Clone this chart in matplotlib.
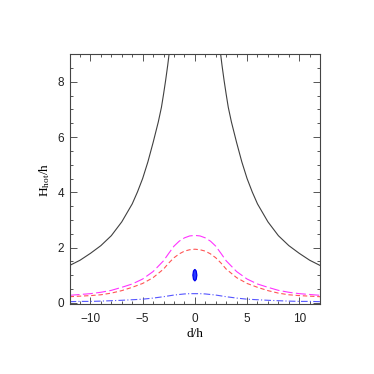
import matplotlib
matplotlib.use("Agg")
import matplotlib.pyplot as plt
from matplotlib.ticker import MultipleLocator

plt.rcParams['mathtext.fontset'] = 'stix'

# Data
black_x = [-12, -11, -10, -9, -8, -7, -6, -5.5, -5, -4.5, -4, -3.5, -3.2, -3, -2.8, -2.6, -2.47, -2.3,
           None,
           2.3, 2.47, 2.6, 2.8, 3, 3.2, 3.5, 4, 4.5, 5, 5.5, 6, 7, 8, 9, 10, 11, 12]
black_y = [1.35, 1.54, 1.79, 2.07, 2.43, 2.93, 3.58, 4.01, 4.50, 5.10, 5.80, 6.55, 7.08, 7.55, 8.05, 8.6, 9.0, 9.5,
           None,
           9.5, 9.0, 8.6, 8.05, 7.55, 7.08, 6.55, 5.80, 5.10, 4.50, 4.01, 3.58, 2.93, 2.43, 2.07, 1.79, 1.54, 1.35]

peak_x = [-12, -11, -10, -9, -8, -7, -6, -5, -4, -3, -2.5, -2, -1.5, -1, -0.5, 0,
          0.5, 1, 1.5, 2, 2.5, 3, 4, 5, 6, 7, 8, 9, 10, 11, 12]
magenta_y = [0.27, 0.30, 0.33, 0.38, 0.45, 0.56, 0.68, 0.86, 1.13, 1.52, 1.79, 2.05, 2.23, 2.35, 2.42, 2.44,
             2.42, 2.35, 2.23, 2.05, 1.79, 1.52, 1.13, 0.86, 0.68, 0.56, 0.45, 0.38, 0.33, 0.30, 0.27]
red_y = [0.22, 0.24, 0.26, 0.29, 0.35, 0.44, 0.56, 0.70, 0.91, 1.22, 1.44, 1.63, 1.77, 1.87, 1.92, 1.94,
         1.92, 1.87, 1.77, 1.63, 1.44, 1.22, 0.91, 0.70, 0.56, 0.44, 0.35, 0.29, 0.26, 0.24, 0.22]
blue_y = [0.04, 0.05, 0.05, 0.06, 0.075, 0.09, 0.11, 0.13, 0.17, 0.22, 0.25, 0.28, 0.30, 0.32, 0.33, 0.33,
          0.33, 0.32, 0.30, 0.28, 0.25, 0.22, 0.17, 0.13, 0.11, 0.09, 0.075, 0.06, 0.05, 0.05, 0.04]

blob_x = [0, 0.13, 0.19, 0.13, 0, -0.13, -0.19, -0.13, 0]
blob_y = [1.21, 1.15, 1.00, 0.85, 0.79, 0.85, 1.00, 1.15, 1.21]

xticks = [-10, -5, 0, 5, 10]
xticklabels = ['\u221210', '\u22125', '0', '5', '10']
yticks = [0, 2, 4, 6, 8]

fig = plt.figure(figsize=(3.74, 3.74), dpi=100)
ax = fig.add_axes([0.186, 0.186, 0.670, 0.669])

bx = [float('nan') if v is None else v for v in black_x]
by = [float('nan') if v is None else v for v in black_y]
ax.plot(bx, by, color='#404040', lw=0.8)
ax.plot(peak_x, magenta_y, color='#ff33ff', lw=0.8, dashes=(9, 3))
ax.plot(peak_x, red_y, color='#ff5555', lw=0.8, dashes=(4, 2.5))
ax.plot(peak_x, blue_y, color='#5555ff', lw=0.8, dashes=(6, 2, 1, 2))
ax.fill(blob_x, blob_y, facecolor='#2a3cff', edgecolor='#0000ee', lw=0.9)

ax.set_xlim(-12, 12)
ax.set_ylim(-0.06, 9)
ax.set_xticks(xticks)
ax.set_xticklabels(xticklabels)
ax.set_yticks(yticks)
ax.xaxis.set_minor_locator(MultipleLocator(1))
ax.yaxis.set_minor_locator(MultipleLocator(0.5))
ax.tick_params(which='both', direction='in', top=True, right=True, colors='#555555',
               labelcolor='#222222', width=0.7)
ax.tick_params(which='major', length=5, labelsize=8.5)
ax.tick_params(which='minor', length=2.5)
ax.tick_params(axis='x', pad=6)
ax.tick_params(axis='y', pad=4)
for lab in ax.get_xticklabels() + ax.get_yticklabels():
    lab.set_family('Liberation Sans')
for s in ax.spines.values():
    s.set_color('#444444')
    s.set_linewidth(0.8)

ax.set_xlabel('d/h', family='Liberation Serif', fontsize=9.5, labelpad=2)
ax.set_ylabel(r'H$_{\mathregular{hot}}$/h', family='Liberation Serif', fontsize=9.5, labelpad=4)

fig.savefig('out.png', dpi=100)
